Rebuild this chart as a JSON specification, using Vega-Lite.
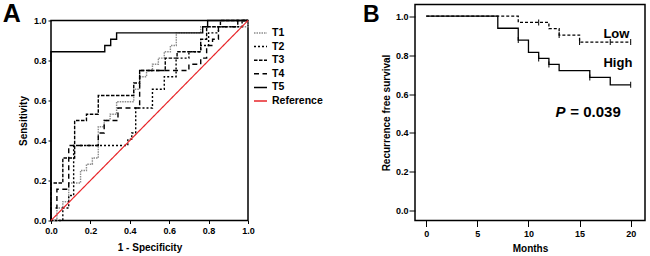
{
"$schema": "https://vega.github.io/schema/vega-lite/v6.json",
"padding": {"left": 1, "top": 0.5, "right": 0, "bottom": 0},
"spacing": 33,
"resolve": {"scale": {"color": "independent", "strokeDash": "independent"}, "legend": {"color": "independent", "strokeDash": "independent"}},
"config": {
  "font": "Liberation Sans",
  "view": {"stroke": "black", "strokeWidth": 1.5},
  "axis": {"grid": false, "domain": false, "labelOverlap": false, "labelFlush": false, "labelFont": "Liberation Sans", "labelFontWeight": "bold", "labelFontSize": 9, "labelColor": "black", "tickColor": "black", "tickWidth": 1, "titleFont": "Liberation Sans", "titleFontWeight": "bold", "titleFontSize": 10, "titleColor": "black"},
  "legend": {"orient": "right", "offset": -3, "padding": 5, "symbolType": "stroke", "symbolSize": 169, "symbolStrokeWidth": 1.5, "labelFont": "Liberation Sans", "labelFontSize": 10.5, "labelFontWeight": "bold", "labelColor": "black", "rowPadding": 0.6, "labelOffset": 4, "labelLimit": 200}
},
"datasets": {
  "roc": [
    {"c":"T1","i":0,"x":0,"y":0},{"c":"T1","i":1,"x":0.03,"y":0.0625},{"c":"T1","i":2,"x":0.06,"y":0.094},{"c":"T1","i":3,"x":0.09,"y":0.1875},{"c":"T1","i":4,"x":0.15,"y":0.25},{"c":"T1","i":5,"x":0.18,"y":0.281},{"c":"T1","i":6,"x":0.21,"y":0.3125},{"c":"T1","i":7,"x":0.24,"y":0.469},{"c":"T1","i":8,"x":0.27,"y":0.5},{"c":"T1","i":9,"x":0.30,"y":0.531},{"c":"T1","i":10,"x":0.333,"y":0.594},{"c":"T1","i":11,"x":0.42,"y":0.656},{"c":"T1","i":12,"x":0.45,"y":0.719},{"c":"T1","i":13,"x":0.485,"y":0.75},{"c":"T1","i":14,"x":0.515,"y":0.781},{"c":"T1","i":15,"x":0.545,"y":0.812},{"c":"T1","i":16,"x":0.575,"y":0.844},{"c":"T1","i":17,"x":0.606,"y":0.875},{"c":"T1","i":18,"x":0.636,"y":0.938},{"c":"T1","i":19,"x":0.76,"y":0.969},{"c":"T1","i":20,"x":1,"y":1},
    {"c":"T2","i":0,"x":0,"y":0},{"c":"T2","i":1,"x":0.06,"y":0.0625},{"c":"T2","i":2,"x":0.09,"y":0.125},{"c":"T2","i":3,"x":0.115,"y":0.375},{"c":"T2","i":4,"x":0.39,"y":0.406},{"c":"T2","i":5,"x":0.41,"y":0.4375},{"c":"T2","i":6,"x":0.43,"y":0.5625},{"c":"T2","i":7,"x":0.515,"y":0.656},{"c":"T2","i":8,"x":0.575,"y":0.719},{"c":"T2","i":9,"x":0.635,"y":0.812},{"c":"T2","i":10,"x":0.70,"y":0.844},{"c":"T2","i":11,"x":0.76,"y":0.875},{"c":"T2","i":12,"x":0.80,"y":0.938},{"c":"T2","i":13,"x":0.85,"y":0.969},{"c":"T2","i":14,"x":0.97,"y":1},{"c":"T2","i":15,"x":1,"y":1},
    {"c":"T3","i":0,"x":0,"y":0},{"c":"T3","i":1,"x":0,"y":0.1875},{"c":"T3","i":2,"x":0.06,"y":0.3125},{"c":"T3","i":3,"x":0.12,"y":0.5},{"c":"T3","i":4,"x":0.18,"y":0.531},{"c":"T3","i":5,"x":0.24,"y":0.625},{"c":"T3","i":6,"x":0.42,"y":0.6875},{"c":"T3","i":7,"x":0.45,"y":0.75},{"c":"T3","i":8,"x":0.58,"y":0.812},{"c":"T3","i":9,"x":0.64,"y":0.844},{"c":"T3","i":10,"x":0.76,"y":0.906},{"c":"T3","i":11,"x":0.79,"y":0.969},{"c":"T3","i":12,"x":0.86,"y":1},{"c":"T3","i":13,"x":1,"y":1},
    {"c":"T4","i":0,"x":0,"y":0},{"c":"T4","i":1,"x":0,"y":0.0625},{"c":"T4","i":2,"x":0.03,"y":0.156},{"c":"T4","i":3,"x":0.09,"y":0.375},{"c":"T4","i":4,"x":0.24,"y":0.4375},{"c":"T4","i":5,"x":0.27,"y":0.5},{"c":"T4","i":6,"x":0.34,"y":0.5625},{"c":"T4","i":7,"x":0.45,"y":0.75},{"c":"T4","i":8,"x":0.70,"y":0.781},{"c":"T4","i":9,"x":0.76,"y":0.812},{"c":"T4","i":10,"x":0.79,"y":0.875},{"c":"T4","i":11,"x":0.82,"y":0.906},{"c":"T4","i":12,"x":0.85,"y":0.969},{"c":"T4","i":13,"x":0.948,"y":1},{"c":"T4","i":14,"x":1,"y":1},
    {"c":"T5","i":0,"x":0,"y":0},{"c":"T5","i":1,"x":0,"y":0.844},{"c":"T5","i":2,"x":0.273,"y":0.875},{"c":"T5","i":3,"x":0.303,"y":0.906},{"c":"T5","i":4,"x":0.333,"y":0.938},{"c":"T5","i":5,"x":0.77,"y":0.969},{"c":"T5","i":6,"x":0.795,"y":1},{"c":"T5","i":7,"x":1,"y":1}
  ],
  "km": [
    {"g":"High","i":0,"m":0,"s":1},{"g":"High","i":1,"m":7,"s":0.938},{"g":"High","i":2,"m":9,"s":0.877},{"g":"High","i":3,"m":10,"s":0.814},{"g":"High","i":4,"m":11,"s":0.783},{"g":"High","i":5,"m":12,"s":0.752},{"g":"High","i":6,"m":13,"s":0.72},{"g":"High","i":7,"m":16,"s":0.685},{"g":"High","i":8,"m":18,"s":0.647},{"g":"High","i":9,"m":20,"s":0.647},
    {"g":"Low","i":0,"m":0,"s":1},{"g":"Low","i":1,"m":9,"s":0.968},{"g":"Low","i":2,"m":12,"s":0.936},{"g":"Low","i":3,"m":13,"s":0.903},{"g":"Low","i":4,"m":15,"s":0.867},{"g":"Low","i":5,"m":20,"s":0.867}
  ],
  "censor": [
    {"g":"High","m":9,"s":0.877},{"g":"High","m":11,"s":0.783},{"g":"High","m":12,"s":0.752},{"g":"High","m":16,"s":0.685},{"g":"High","m":20,"s":0.647},
    {"g":"Low","m":11,"s":0.968},{"g":"Low","m":13,"s":0.903},{"g":"Low","m":15,"s":0.867},{"g":"Low","m":18,"s":0.867},{"g":"Low","m":20,"s":0.867}
  ]
},
"hconcat": [
  {
    "bounds": "flush",
    "spacing": 0,
    "resolve": {"scale": {"color": "independent", "strokeDash": "independent"}, "legend": {"color": "independent", "strokeDash": "independent"}},
    "vconcat": [
      {
        "width": 197, "height": 16,
        "view": {"stroke": null},
        "data": {"values": []},
        "mark": "point"
      },
      {
        "width": 197, "height": 200,
        "encoding": {
          "x": {"field": "x", "type": "quantitative", "scale": {"domain": [0, 1], "nice": false}, "axis": {"title": "1 - Specificity", "values": [0, 0.2, 0.4, 0.6, 0.8, 1], "format": ".1f", "tickSize": 3, "labelPadding": 3, "titlePadding": 7}},
          "y": {"field": "y", "type": "quantitative", "scale": {"domain": [0, 1], "nice": false}, "axis": {"title": "Sensitivity", "values": [0, 0.2, 0.4, 0.6, 0.8, 1], "format": ".1f", "tickSize": 3, "labelPadding": 2, "titlePadding": 5}}
        },
        "layer": [
          {
            "data": {"name": "roc"},
            "mark": {"type": "line", "interpolate": "step-after", "strokeWidth": 1.4},
            "encoding": {
              "color": {"field": "c", "type": "nominal", "scale": {"domain": ["T1", "T2", "T3", "T4", "T5", "Reference"], "range": ["#8c8c8c", "black", "black", "black", "black", "#e8262a"]}, "legend": {"title": null}},
              "strokeDash": {"field": "c", "type": "nominal", "scale": {"domain": ["T1", "T2", "T3", "T4", "T5", "Reference"], "range": [[1.5, 1], [2, 2], [3.5, 1.5], [5, 3.5], [1, 0], [1, 0]]}, "legend": {"title": null}},
              "order": {"field": "i", "type": "quantitative"}
            }
          },
          {
            "data": {"values": [{"c": "Reference", "x": 0, "y": 0}, {"c": "Reference", "x": 1, "y": 1}]},
            "mark": {"type": "line", "strokeWidth": 1.2},
            "encoding": {
              "color": {"field": "c", "type": "nominal"},
              "strokeDash": {"field": "c", "type": "nominal"}
            }
          },
          {
            "data": {"values": [{"x": -0.245, "y": 0.995, "t": "A"}]},
            "mark": {"type": "text", "fontSize": 25, "fontWeight": "bold", "align": "left", "baseline": "alphabetic", "color": "black"},
            "encoding": {"text": {"field": "t"}}
          }
        ]
      }
    ]
  },
  {
    "width": 230, "height": 216,
    "encoding": {
      "x": {"field": "m", "type": "quantitative", "scale": {"domain": [-1.1, 21.4], "nice": false, "zero": false}, "axis": {"title": "Months", "values": [0, 5, 10, 15, 20], "tickSize": 6, "labelPadding": 2.5, "titlePadding": 5}},
      "y": {"field": "s", "type": "quantitative", "scale": {"domain": [-0.05, 1.06], "nice": false, "zero": false}, "axis": {"title": "Recurrence free survival", "values": [0, 0.2, 0.4, 0.6, 0.8, 1], "format": ".1f", "tickSize": 6, "labelPadding": 1, "titlePadding": 4}}
    },
    "layer": [
      {
        "data": {"name": "km"},
        "mark": {"type": "line", "interpolate": "step-after", "strokeWidth": 1.3, "color": "black"},
        "encoding": {
          "strokeDash": {"field": "g", "type": "nominal", "scale": {"domain": ["High", "Low"], "range": [[1, 0], [3, 2]]}, "legend": null},
          "order": {"field": "i", "type": "quantitative"}
        }
      },
      {
        "data": {"name": "censor"},
        "mark": {"type": "tick", "orient": "vertical", "size": 6, "thickness": 1, "color": "black", "opacity": 1}
      },
      {
        "data": {"values": [{"m": 18.6, "s": 0.906, "t": "Low"}, {"m": 18.75, "s": 0.76, "t": "High"}]},
        "mark": {"type": "text", "fontSize": 13, "fontWeight": "bold", "align": "center", "baseline": "middle", "color": "black"},
        "encoding": {"text": {"field": "t"}}
      },
      {
        "data": {"values": [{"m": 12.65, "s": 0.508, "t": "P"}]},
        "mark": {"type": "text", "fontSize": 15, "fontWeight": "bold", "fontStyle": "italic", "align": "left", "baseline": "middle", "color": "black"},
        "encoding": {"text": {"field": "t"}}
      },
      {
        "data": {"values": [{"m": 14.09, "s": 0.508, "t": "= 0.039"}]},
        "mark": {"type": "text", "fontSize": 15, "fontWeight": "bold", "align": "left", "baseline": "middle", "color": "black"},
        "encoding": {"text": {"field": "t"}}
      },
      {
        "data": {"values": [{"m": -6.18, "s": 0.971, "t": "B"}]},
        "mark": {"type": "text", "fontSize": 23, "fontWeight": "bold", "align": "left", "baseline": "alphabetic", "color": "black"},
        "encoding": {"text": {"field": "t"}}
      }
    ]
  }
]
}
